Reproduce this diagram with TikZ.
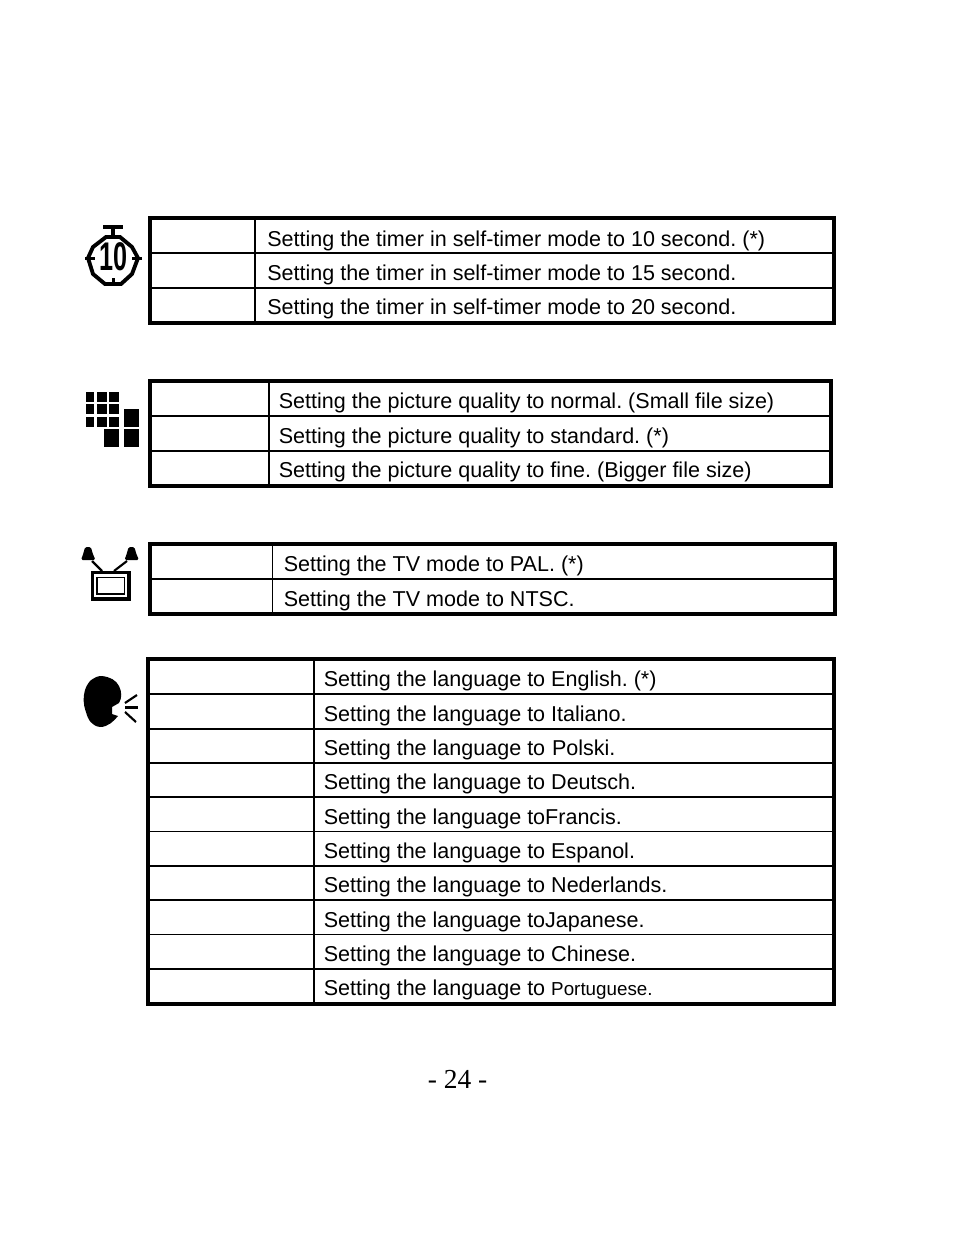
\documentclass[tikz,border=0pt]{standalone}
\usepackage{fontspec}
\setmainfont{Liberation Sans}
\newfontfamily\serifpage{Liberation Serif}
\frenchspacing
\tikzset{
  frameline/.style={line width=2.8pt},
  rowline/.style={line width=1.4pt},
  celltext/.style={anchor=base west,inner sep=0pt,font=\fontsize{16.15}{19}\selectfont},
  iconline/.style={line width=2.9pt},
  rayline/.style={line width=1.6pt}
}
\begin{document}
\begin{tikzpicture}[x=0.75pt,y=-0.75pt]
\useasboundingbox (0,0) rectangle (954,1235);
% timer table
\draw[frameline] (150,218) rectangle (834,323);
\draw[rowline] (150,253) -- (834,253);
\draw[rowline] (150,288) -- (834,288);
\draw[rowline] (255,218) -- (255,323);
\foreach \n/\y/\txt in {1/246/{Setting the timer in self-timer mode to 10 second. (*)},
  2/280/{Setting the timer in self-timer mode to 15 second.},
  3/314/{Setting the timer in self-timer mode to 20 second.}}
\node[celltext] (timer\n) at (267,\y) {\txt};
% quality table
\draw[frameline] (150,381) rectangle (831,486);
\draw[rowline] (150,416) -- (831,416);
\draw[rowline] (150,451) -- (831,451);
\draw[rowline] (269,381) -- (269,486);
\foreach \n/\y/\txt in {1/408/{Setting the picture quality to normal. (Small file size)},
  2/443/{Setting the picture quality to standard. (*)},
  3/477/{Setting the picture quality to fine. (Bigger file size)}}
\node[celltext] (quality\n) at (278.5,\y) {\txt};
% tv table
\draw[frameline] (150,544) rectangle (835,614);
\draw[rowline] (150,579) -- (835,579);
\draw[rowline] (272.5,544) -- (272.5,614);
\foreach \n/\y/\txt in {1/571/{Setting the TV mode to PAL. (*)},
  2/606/{Setting the TV mode to NTSC.}}
\node[celltext] (tv\n) at (283.5,\y) {\txt};
% language table
\draw[frameline] (148,659) rectangle (834,1004);
\foreach \y in {694,729,763,797,831.5,866,900,934.5,969}
\draw[rowline] (148,\y) -- (834,\y);
\draw[rowline] (314,659) -- (314,1004);
\foreach \n/\y/\txt in {1/686/{Setting the language to English. (*)},
  2/721/{Setting the language to Italiano.},
  3/755/{Setting the language to\kern0.6pt{} Polski.},
  4/789/{Setting the language to Deutsch.},
  5/824/{Setting the language toFrancis.},
  6/858/{Setting the language to Espanol.},
  7/892/{Setting the language to Nederlands.},
  8/927/{Setting the language toJapanese.},
  9/961/{Setting the language to Chinese.},
  10/995/{Setting the language to {\fontsize{14.1}{17}\selectfont Portuguese.}}}
\node[celltext] (lang\n) at (323.5,\y) {\txt};
% page number
\node[anchor=base,inner sep=0pt,font=\serifpage\fontsize{20.6}{24}\selectfont] (pagenum) at (457.5,1088) {- 24 -};
% timer icon
\draw[iconline] (106,237) -- (120,237) -- (132,247) -- (138,258) -- (132,274) -- (121,284) -- (105,284) -- (93,274) -- (88,258) -- (93,247) -- cycle;
\fill (103,225) rectangle (123,229);
\fill (111,228) rectangle (115,236);
\fill (85,256.5) rectangle (95,260);
\fill (132,256.5) rectangle (142,260);
\fill (111.5,278) rectangle (114.5,286);
\node[inner sep=0pt,font=\bfseries\fontsize{30}{30}\selectfont,xscale=.63] (timerten) at (114,257) {10};
% quality icon
\foreach \x/\w in {86/8,97/9.5,109/10}
\foreach \y in {392,404,417}
\fill (\x,\y) rectangle +(\w,10);
\fill (124,409) rectangle (139,427);
\fill (124,429) rectangle (139,447);
\fill (103.5,429) rectangle (119,447);
% tv icon
\draw[line width=2.6pt] (92.5,572.5) rectangle (129,599);
\draw[line width=1.2pt] (97,577.5) rectangle (124.5,594);
\draw[rayline] (102,571) -- (92,561);
\draw[rayline] (114,571) -- (127,561);
\fill[rounded corners=1.2pt] (85,547) -- (91,547) -- (92.5,553) -- (95.5,560) -- (81,560) -- (83.5,553) -- cycle;
\fill[rounded corners=1.2pt] (128.5,547) -- (134.5,547) -- (136,553) -- (139,560) -- (124.5,560) -- (127,553) -- cycle;
% language icon
\fill (102,676) .. controls (110,677) and (116,680) .. (119,686) .. controls (122,692) and (122,698) .. (119,703) -- (112,707) -- (112,714) -- (118,716) .. controls (114,721) and (108,727) .. (100,727) .. controls (92,726) and (88,720) .. (86,712) .. controls (83,704) and (83,697) .. (85,690) .. controls (88,681) and (94,676) .. cycle;
\draw[rayline] (125,703) -- (137,695);
\draw[rayline] (125,707.5) -- (138,707.5);
\draw[rayline] (125,712) -- (136,722);
\end{tikzpicture}
\end{document}
